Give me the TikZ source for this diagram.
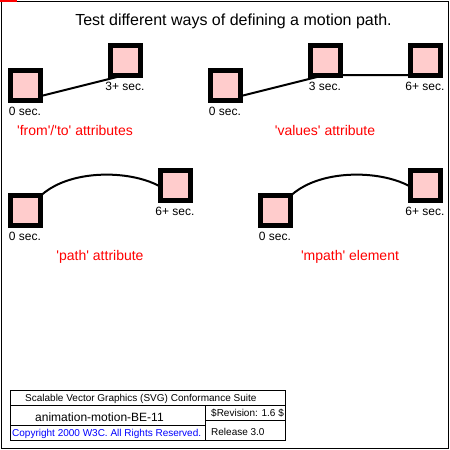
\documentclass[tikz,border=0pt]{standalone}
\usepackage{fontspec}
\newfontfamily\arial{Liberation Sans}
\definecolor{pinkfill}{RGB}{255,204,204}
\tikzset{
  sq/.style={draw=black, line width=5pt, fill=pinkfill, minimum size=30pt, inner sep=0pt, outer sep=0pt},
  mpath/.style={draw=black, line width=2pt},
  lbl/.style={font=\arial\fontsize{12}{14}\selectfont, anchor=base, inner sep=0pt},
  redlbl/.style={font=\arial\fontsize{14}{16}\selectfont, text=red, anchor=base, inner sep=0pt},
  leg/.style={font=\arial\fontsize{10}{12}\selectfont, anchor=base west, inner sep=0pt},
}
\begin{document}
\begin{tikzpicture}[x=1pt, y=-1pt]
\useasboundingbox (0,0) rectangle (450,450);
\fill[white] (0,0) rectangle (450,450);
% title
\node[font=\arial\fontsize{16}{19}\selectfont, anchor=base, inner sep=0pt] (title) at (233.5,25) {Test different ways of defining a motion path.};

% path points
\coordinate (a0) at (25,100);
\coordinate (a1) at (125,75);
\coordinate (b0) at (225,100);
\coordinate (b1) at (325,75);
\coordinate (b2) at (425,75);
\coordinate (c0) at (25,225);
\coordinate (c1) at (175,200);
\coordinate (d0) at (275,225);
\coordinate (d1) at (425,200);

% motion paths
\draw[mpath] (a0) -- (a1);
\draw[mpath] (b0) -- (b1) -- (b2);
\draw[mpath] (c0) .. controls (35,160) and (155,165) .. (c1);
\draw[mpath] (d0) .. controls (285,160) and (405,165) .. (d1);

% squares
\node[sq] (sa0) at (25,85) {};
\node[sq] (sa1) at (125,60) {};
\node[sq] (sb0) at (225,85) {};
\node[sq] (sb1) at (325,60) {};
\node[sq] (sb2) at (425,60) {};
\node[sq] (sc0) at (25,210) {};
\node[sq] (sc1) at (175,185) {};
\node[sq] (sd0) at (275,210) {};
\node[sq] (sd1) at (425,185) {};

% time labels
\node[lbl] (ta0) at (25,115) {0 sec.};
\node[lbl] (ta1) at (125,90) {3+ sec.};
\node[lbl] (tb0) at (225,115) {0 sec.};
\node[lbl] (tb1) at (325,90) {3 sec.};
\node[lbl] (tb2) at (425,90) {6+ sec.};
\node[lbl] (tc0) at (25,240) {0 sec.};
\node[lbl] (tc1) at (175,215) {6+ sec.};
\node[lbl] (td0) at (275,240) {0 sec.};
\node[lbl] (td1) at (425,215) {6+ sec.};

% red labels
\node[redlbl] (ra) at (75,135) {'from'/'to' attributes};
\node[redlbl] (rb) at (325,135) {'values' attribute};
\node[redlbl] (rc) at (100,260) {'path' attribute};
\node[redlbl] (rd) at (350,260) {'mpath' element};

% legend
\draw[black, line width=1pt] (10,390) rectangle (285,440);
\draw[black, line width=1pt] (10,405) -- (285,405) (205,405) -- (205,440) (10,425) -- (205,425) (205,420) -- (285,420);
\node[leg] (l1) at (25,401) {Scalable Vector Graphics (SVG) Conformance Suite};
\node[leg, font=\arial\fontsize{12}{14}\selectfont] (l2) at (35,421) {animation-motion-BE-11};
\node[leg, text=blue] (l3) at (12,436) {Copyright 2000 W3C. All Rights Reserved.};
\node[leg] (l4) at (211,416) {\$Revision: 1.6 \$};
\node[leg] (l5) at (211,435) {Release 3.0};

% frame
\draw[black, line width=1pt] (1.5,1.5) rectangle (448.5,448.5);
\fill[red] (0,0) rectangle (17,1.8);
\end{tikzpicture}
\end{document}
